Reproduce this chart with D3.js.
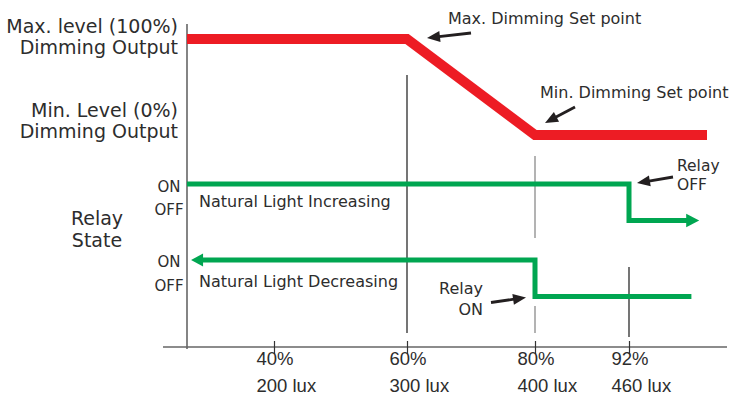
<!DOCTYPE html>
<html><head><meta charset="utf-8">
<script src="https://cdn.jsdelivr.net/npm/d3@7"></script>
<style>
html,body{margin:0;padding:0;background:#fff;}
svg{display:block;font-family:"DejaVu Sans",Verdana,sans-serif;}
</style></head>
<body><svg id="chart" width="730" height="398"></svg>
<script>
// ---- data ----
const xTickValues = [40, 60, 80, 92];
const xTickPct = ["40%", "60%", "80%", "92%"];
const xTickLux = ["200 lux", "300 lux", "400 lux", "460 lux"];
const dimX = [25, 60, 80, 102];
const dimLevel = [100, 100, 0, 0];
const incX = [25, 92, 92, 101];
const incState = [1, 1, 0, 0];
const decX = [100, 80, 80, 25.7];
const decState = [0, 0, 1, 1];
const relayRows = ["increasing", "decreasing"];
const rowLabels = ["Natural Light Increasing", "Natural Light Decreasing"];
const stateLabels = ["ON", "OFF"];
const guideX = [60, 80, 92];

// ---- setup ----
const svg = d3.select("#chart");
const ink = "#2d2d2d", red = "#ED1C24", green = "#00A651";
const x = d3.scaleLinear().domain([25, 40, 60, 80, 92, 102]).range([187, 274, 407, 535, 629, 707]);
const yDim = d3.scaleLinear().domain([0, 100]).range([135, 39]);
const yRow = d3.scalePoint().domain(relayRows).range([184, 260]);
const yState = d3.scaleLinear().domain([0, 1]).range([36.5, 0]);
const axisY = 347;

// guides
const guides = [
  {x: guideX[0], y1: 75, y2: 333, c: "#1a1a1a"},
  {x: guideX[1], y1: 156, y2: 238, c: "#808080"},
  {x: guideX[1], y1: 306, y2: 333, c: "#808080"},
  {x: guideX[2], y1: 267, y2: 337, c: "#1a1a1a"}
];
svg.selectAll("line.guide").data(guides).join("line").attr("class","guide")
  .attr("x1", d => x(d.x)).attr("x2", d => x(d.x))
  .attr("y1", d => d.y1).attr("y2", d => d.y2)
  .attr("stroke", d => d.c).attr("stroke-width", 1.2);

// left vertical axis
svg.append("line").attr("x1", x(25)).attr("x2", x(25)).attr("y1", 24).attr("y2", axisY + 2)
  .attr("stroke", "#333").attr("stroke-width", 1.2);

// x axis
svg.append("line").attr("x1", 163).attr("x2", 727).attr("y1", axisY).attr("y2", axisY)
  .attr("stroke", "#666").attr("stroke-width", 1.4);
const axis = d3.axisBottom(x).tickValues(xTickValues).tickSize(0).tickFormat(() => "");
const ag = svg.append("g").attr("transform", `translate(0,${axisY})`).call(axis);
ag.select(".domain").remove();
ag.selectAll(".tick line").attr("y1", -6).attr("y2", 7).attr("stroke", "#333").attr("stroke-width", 1.2);
ag.selectAll(".tick text").remove();
ag.selectAll(".tick").each(function(d, i) {
  const t = d3.select(this).append("text").attr("fill", ink).attr("font-size", 18.5)
    .attr("text-anchor", "start");
  t.append("tspan").attr("x", -18).attr("y", 18).text(xTickPct[i]);
  t.append("tspan").attr("x", -18).attr("y", 45).text(xTickLux[i]);
});

// dimming red line
const dimPts = dimX.map((v, i) => [x(v), yDim(dimLevel[i])]);
svg.append("path").attr("d", d3.line()(dimPts)).attr("fill", "none")
  .attr("stroke", red).attr("stroke-width", 10).attr("stroke-linejoin", "miter");

// relay lines with arrowheads
function relayLine(xs, st, row, arrowLen, arrowHalf) {
  const pts = xs.map((v, i) => [x(v), yRow(row) + yState(st[i])]);
  const n = pts.length;
  const tip = pts[n - 1], prev = pts[n - 2];
  const dx = tip[0] - prev[0], dy = tip[1] - prev[1];
  const L = Math.hypot(dx, dy), ux = dx / L, uy = dy / L;
  const base = [tip[0] - ux * arrowLen, tip[1] - uy * arrowLen];
  const linePts = pts.slice(0, n - 1).concat([[base[0] + ux, base[1] + uy]]);
  svg.append("path").attr("d", d3.line()(linePts)).attr("fill", "none")
    .attr("stroke", green).attr("stroke-width", 5).attr("stroke-linejoin", "miter");
  const px = -uy, py = ux;
  svg.append("path").attr("fill", green)
    .attr("d", `M${tip[0]},${tip[1]}L${base[0] + px * arrowHalf},${base[1] + py * arrowHalf}L${base[0] - px * arrowHalf},${base[1] - py * arrowHalf}Z`);
}
relayLine(incX, incState, relayRows[0], 13, 6.8);
relayLine(decX, decState, relayRows[1], 12, 6.5);

// text helpers
function txt(xp, yp, s, size, anchor) {
  return svg.append("text").attr("x", xp).attr("y", yp).attr("fill", ink)
    .attr("font-size", size).attr("text-anchor", anchor || "start").text(s);
}
// left labels
txt(178, 33, "Max. level (100%)", 19, "end");
txt(178, 54, "Dimming Output", 19, "end");
txt(178, 117, "Min. Level (0%)", 19, "end");
txt(178, 138, "Dimming Output", 19, "end");
txt(97, 225, "Relay", 19, "middle");
txt(97, 247, "State", 19, "middle");
// ON / OFF
relayRows.forEach((r, i) => {
  const on = yRow(r);
  txt(169, on + 8 - i * 1, stateLabels[0], 15, "middle");
  txt(169, on + 31 - i * 0.5, stateLabels[1], 15, "middle");
  txt(199, on + 23 + i * 4, rowLabels[i], 16, "start");
});

// annotations
function blackArrow(tx, ty, fx, fy) {
  const dx = tx - fx, dy = ty - fy, L = Math.hypot(dx, dy), ux = dx / L, uy = dy / L;
  const hl = 13, hw = 5.5;
  const bx = tx - ux * hl, by = ty - uy * hl;
  svg.append("line").attr("x1", fx).attr("y1", fy).attr("x2", bx + ux).attr("y2", by + uy)
    .attr("stroke", "#231F20").attr("stroke-width", 2.8);
  svg.append("path").attr("fill", "#231F20")
    .attr("d", `M${tx},${ty}L${bx - uy * hw},${by + ux * hw}L${bx + uy * hw},${by - ux * hw}Z`);
}
blackArrow(x(60) + 20, yDim(100) - 1, x(60) + 64, yDim(100) - 6);
txt(448, 24, "Max. Dimming Set point", 16);
blackArrow(x(80) + 10, yDim(0) - 12, x(80) + 40, yDim(0) - 28);
txt(540, 98, "Min. Dimming Set point", 16);
const onUp = yRow(relayRows[0]), offLow = yRow(relayRows[1]) + yState(0);
blackArrow(x(92) + 8, onUp - 1, x(92) + 44, onUp - 7);
txt(677, 171, "Relay", 15.5);
txt(677, 190, "OFF", 15.5);
blackArrow(x(80) - 9, offLow + 1, x(80) - 44, offLow + 6);
txt(483, 294, "Relay", 16, "end");
txt(483, 315, "ON", 16, "end");
</script></body></html>
